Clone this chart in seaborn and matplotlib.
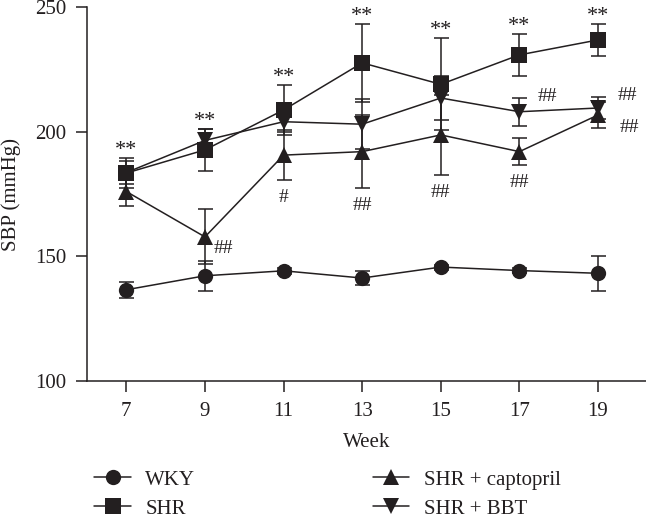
import numpy as np
import pandas as pd
import seaborn as sns
import matplotlib.pyplot as plt
from matplotlib.lines import Line2D

# Data (mean and error, mmHg)
weeks = [7, 9, 11, 13, 15, 17, 19]
groups = ['WKY', 'SHR', 'SHR + captopril', 'SHR + BBT']
wky = [136.6, 142.2, 144.2, 141.3, 145.7, 144.3, 143.2]
wky_err = [3.2, 6.0, 1.2, 2.7, 1.0, 1.0, 7.0]
shr = [183.4, 192.7, 208.7, 227.6, 219.0, 230.8, 236.8]
shr_err = [6.0, 8.5, 10.0, 15.5, 18.5, 8.3, 6.5]
cap = [176.0, 157.8, 190.6, 192.0, 198.7, 192.0, 206.7]
cap_err = [6.0, 11.0, 10.0, 14.5, 16.0, 5.5, 5.2]
bbt = [183.6, 196.5, 204.0, 203.0, 213.5, 208.0, 209.5]
bbt_err = [4.5, 4.5, 4.0, 10.0, 9.0, 5.7, 4.5]
markers = ['o', 's', '^', 'v']

ink = '#231f20'
means = [wky, shr, cap, bbt]
errs = [wky_err, shr_err, cap_err, bbt_err]

df = pd.DataFrame({
    'Week': weeks * 4,
    'SBP': wky + shr + cap + bbt,
    'group': [g for g in groups for _ in weeks],
})

sns.set_style('ticks')
plt.rcParams['font.family'] = ['Liberation Serif', 'DejaVu Serif']
plt.rcParams['font.size'] = 15

fig = plt.figure(figsize=(6.46, 5.2), dpi=100)
ax = fig.add_axes([0.1347, 0.2673, 0.8653, 0.7192])

# error bars first so the markers sit on top
for m, e in zip(means, errs):
    ax.errorbar(weeks, m, yerr=e, fmt='none', ecolor=ink, elinewidth=1.1,
                capsize=5.4, capthick=1.1, zorder=2)

sns.lineplot(data=df, x='Week', y='SBP', hue='group', style='group',
             hue_order=groups, style_order=groups, markers=markers, dashes=False,
             palette=[ink] * 4, markersize=11, markeredgewidth=0, linewidth=1.1,
             legend=False, ax=ax, zorder=3)

# significance marks
for w, m, e in zip(weeks, shr, shr_err):
    ax.text(w, m + e + 3, '**', ha='center', va='center', fontsize=16, color=ink)

hash_below = {11: '#', 13: '##', 15: '##', 17: '##'}
for w, m, e in zip(weeks, cap, cap_err):
    if w in hash_below:
        ax.text(w, m - e - 7, hash_below[w], ha='center', va='center', fontsize=14, color=ink)

ax.text(9.22, cap[1] - 4.5, '##', ha='left', va='center', fontsize=14, color=ink)
ax.text(17.47, bbt[5] + 6, '##', ha='left', va='center', fontsize=14, color=ink)
ax.text(19.5, bbt[6] + 5, '##', ha='left', va='center', fontsize=14, color=ink)
ax.text(19.55, cap[6] - 5, '##', ha='left', va='center', fontsize=14, color=ink)

ax.set_xlim(6, 20.22)
ax.set_ylim(100, 250)
ax.set_xticks(weeks)
ax.set_yticks([100, 150, 200, 250])
ax.set_xlabel('Week', color=ink, labelpad=9)
ax.set_ylabel('SBP (mmHg)', color=ink, labelpad=10)
ax.tick_params(direction='out', length=8, width=1.1, colors=ink, pad=7)
for side in ['top', 'right']:
    ax.spines[side].set_visible(False)
for side in ['left', 'bottom']:
    ax.spines[side].set_color(ink)
    ax.spines[side].set_linewidth(1.1)
for art in ax.get_children():
    art.set_clip_on(False)

handles = [Line2D([], [], color=ink, marker=mk, markersize=11, markeredgewidth=0,
                  linewidth=1.1) for mk in markers]
fig.legend(handles, groups, loc='upper left', bbox_to_anchor=(0.13, 0.116),
           ncol=2, frameon=False, borderpad=0, handlelength=1.75, handletextpad=0.7,
           columnspacing=8.5, labelspacing=0.45, fontsize=15, labelcolor=ink)

fig.savefig('out.png', dpi=100)
